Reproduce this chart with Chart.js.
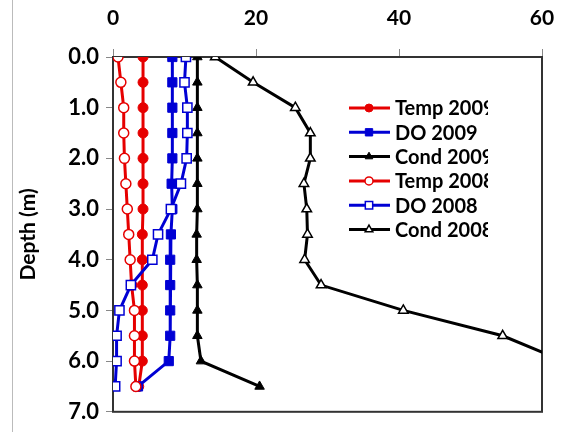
<!DOCTYPE html>
<html>
<head>
<meta charset="utf-8">
<script src="https://cdn.jsdelivr.net/npm/chart.js@4/dist/chart.umd.min.js"></script>
<style>
  body { margin: 0; background: #fff; }
  #wrap { width: 581px; height: 432px; }
</style>
</head>
<body>
<div id="wrap"><canvas id="profile"></canvas></div>
<script>
const depths = [0, 0.5, 1, 1.5, 2, 2.5, 3, 3.5, 4, 4.5, 5, 5.5, 6, 6.5];
const temp2009 = [4.2, 4.2, 4.2, 4.2, 4.2, 4.2, 4.2, 4.1, 4.1, 4.1, 4.1, 4.1, 4.1, 3.6];
const do2009 = [8.3, 8.3, 8.3, 8.3, 8.3, 8.2, 8.3, 8.1, 8.0, 8.0, 8.0, 8.0, 7.8, 3.5];
const cond2009 = [11.8, 11.8, 11.8, 11.8, 11.8, 11.8, 11.8, 11.7, 11.7, 11.8, 11.8, 11.8, 12.3, 20.5];
const temp2008 = [0.7, 1.1, 1.5, 1.5, 1.6, 1.8, 2.0, 2.2, 2.4, 2.6, 3.0, 3.0, 3.0, 3.2];
const do2008 = [10.2, 10.0, 10.4, 10.4, 10.3, 9.5, 8.1, 6.3, 5.5, 2.5, 0.9, 0.5, 0.5, 0.3];
const cond2008 = [14.3, 19.6, 25.5, 27.6, 27.6, 26.7, 27.1, 27.2, 26.8, 29.1, 40.6, 54.5, 63, 70];
const xTicks = [0, 20, 40, 60];
const yTicks = [0, 1, 2, 3, 4, 5, 6, 7];

const RED = '#e60000';
const BLUE = '#0000d4';
const BLACK = '#000000';
const FONT = 'Lato, "Open Sans", sans-serif';

function pts(vals) {
    return vals.map((v, i) => ({ x: v, y: depths[i] }));
}

function series(label, vals, color, style, filled, radius) {
    return {
        label: label,
        data: pts(vals),
        borderColor: color,
        backgroundColor: filled ? color : '#ffffff',
        borderWidth: 3,
        pointStyle: style,
        pointRadius: radius,
        pointBorderColor: color,
        pointBackgroundColor: filled ? color : '#ffffff',
        pointBorderWidth: filled ? 1 : 1.5,
        tension: 0,
    };
}

const sets = [
    series('Temp 2009', temp2009, RED, 'circle', true, 5),
    series('DO 2009', do2009, BLUE, 'rect', true, 6.5),
    series('Cond 2009', cond2009, BLACK, 'triangle', true, 5.5),
    series('Temp 2008', temp2008, RED, 'circle', false, 5),
    series('DO 2008', do2008, BLUE, 'rect', false, 6.5),
    series('Cond 2008', cond2008, BLACK, 'triangle', false, 5.5),
];
sets.forEach((d, i) => { d.order = -i; });

// legend inside the plot, cut off on the right like the original
const boxLegend = {
    id: 'boxLegend',
    afterDraw(chart) {
        const ctx = chart.ctx;
        ctx.save();
        ctx.beginPath();
        ctx.rect(340, 90, 148, 160);
        ctx.clip();
        chart.data.datasets.forEach((d, i) => {
            const y = 108 + i * 24.3;
            ctx.strokeStyle = d.borderColor;
            ctx.lineWidth = 3;
            ctx.beginPath();
            ctx.moveTo(349, y);
            ctx.lineTo(390, y);
            ctx.stroke();
            ctx.fillStyle = d.pointBackgroundColor;
            ctx.strokeStyle = d.pointBorderColor;
            ctx.lineWidth = d.pointBorderWidth;
            Chart.helpers.drawPoint(ctx, {
                pointStyle: d.pointStyle,
                radius: d.pointRadius * 0.8,
                rotation: 0,
                borderWidth: d.pointBorderWidth
            }, 369, y);
            ctx.fillStyle = '#000';
            ctx.font = 'bold 20px ' + FONT;
            ctx.textBaseline = 'middle';
            ctx.textAlign = 'left';
            ctx.fillText(d.label, 395, y + 1);
        });
        ctx.restore();
    }
};

// box round the plot and the thin frame line on the left
const frame = {
    id: 'frame',
    beforeDatasetsDraw(chart) {
        const a = chart.chartArea;
        const ctx = chart.ctx;
        ctx.save();
        ctx.strokeStyle = '#bbbbbb';
        ctx.lineWidth = 1;
        ctx.beginPath();
        ctx.moveTo(12.5, 0);
        ctx.lineTo(12.5, 432);
        ctx.stroke();
        ctx.strokeStyle = '#333333';
        ctx.lineWidth = 2;
        ctx.strokeRect(a.left, a.top, a.right - a.left, a.bottom - a.top);
        ctx.restore();
    }
};

new Chart(document.getElementById('profile'), {
    type: 'line',
    data: { datasets: sets },
    options: {
        responsive: true,
        maintainAspectRatio: false,
        animation: false,
        layout: { padding: { left: 0, top: 0, right: 39, bottom: 18 } },
        plugins: {
            legend: { display: false },
            tooltip: { enabled: false },
        },
        scales: {
            x: {
                type: 'linear',
                position: 'top',
                min: 0,
                max: 60,
                afterBuildTicks: s => { s.ticks = xTicks.map(v => ({ value: v })); },
                afterFit: s => { s.height = 57; },
                ticks: {
                    color: '#000',
                    font: { family: FONT, size: 21, weight: 'bold' },
                    padding: 18,
                    maxRotation: 0,
                },
                grid: {
                    drawOnChartArea: false,
                    tickLength: 8,
                    color: '#888888',
                },
                border: { display: true, color: '#333333', width: 2 },
            },
            y: {
                type: 'linear',
                reverse: true,
                min: 0,
                max: 7,
                afterBuildTicks: s => { s.ticks = yTicks.map(v => ({ value: v })); },
                afterFit: s => { s.width = 113; },
                ticks: {
                    color: '#000',
                    font: { family: FONT, size: 22, weight: 'bold' },
                    padding: 7,
                    callback: v => v.toFixed(1),
                },
                grid: {
                    drawOnChartArea: false,
                    tickLength: 7,
                    color: '#888888',
                },
                border: { display: true, color: '#333333', width: 2 },
                title: {
                    display: true,
                    text: 'Depth (m)',
                    color: '#000',
                    font: { family: FONT, size: 21, weight: 'bold' },
                    padding: { top: 16, bottom: 0 },
                },
            },
        },
    },
    plugins: [frame, boxLegend],
});
</script>
</body>
</html>
